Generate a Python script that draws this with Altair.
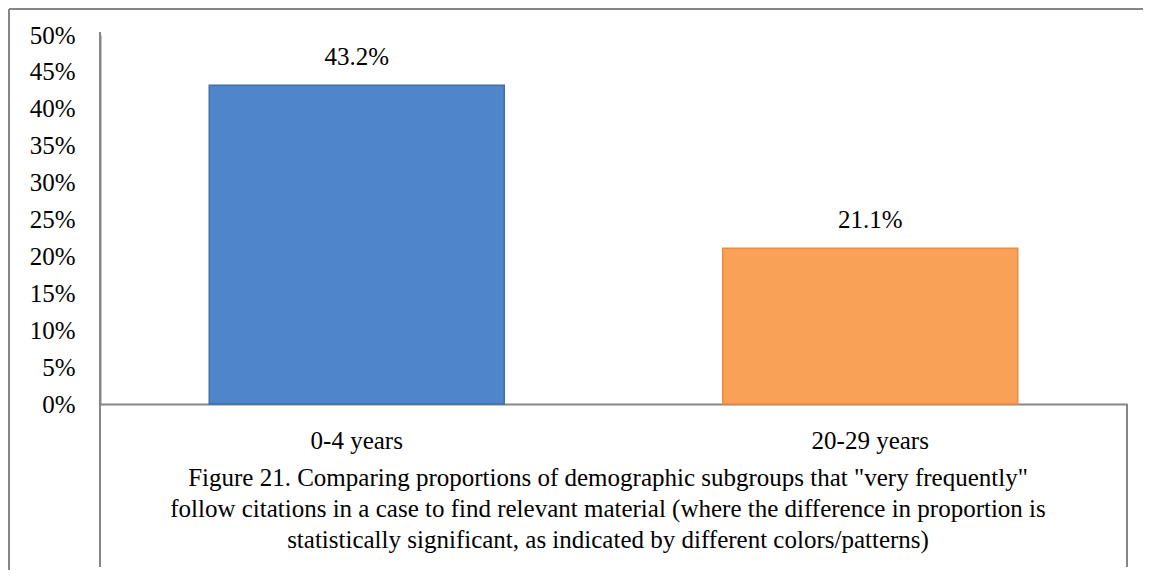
import altair as alt
import pandas as pd

categories = ["0-4 years", "20-29 years"]
values = [0.432, 0.211]
labels = ["43.2%", "21.1%"]
colors = ["#4F86CB", "#F8A157"]
edge_colors = ["#3F6EAA", "#E98B40"]
caption = [
    'Figure 21. Comparing proportions of demographic subgroups that "very frequently"',
    'follow citations in a case to find relevant material (where the difference in proportion is',
    'statistically significant, as indicated by different colors/patterns)',
]
y_ticks = [0, 0.05, 0.1, 0.15, 0.2, 0.25, 0.3, 0.35, 0.4, 0.45, 0.5]

df = pd.DataFrame({"cat": categories, "val": values, "lab": labels, "col": colors, "edge": edge_colors})

W, H = 1027, 369
FONT = "Liberation Serif"
GRAY = "#868686"

x_axis = alt.Axis(
    title=caption,
    titleFont=FONT,
    titleFontSize=25,
    titleFontWeight="normal",
    titleColor="#000000",
    titleLineHeight=31,
    titlePadding=12,
    titleX=W / 2 - 6,
    labelFont=FONT,
    labelFontSize=25,
    labelColor="#000000",
    labelPadding=24,
    labelAngle=0,
    ticks=False,
    domainColor=GRAY,
    domainWidth=2,
)
y_axis = alt.Axis(
    title=None,
    values=y_ticks,
    format=".0%",
    labelFont=FONT,
    labelFontSize=25,
    labelColor="#000000",
    labelPadding=25,
    labelOverlap=False,
    ticks=False,
    grid=False,
    domainColor=GRAY,
    domainWidth=2,
)
x_enc = alt.X("cat:N", sort=categories,
              scale=alt.Scale(paddingInner=0.4255, paddingOuter=0.2128), axis=x_axis)
y_enc = alt.Y("val:Q", scale=alt.Scale(domain=[0, 0.5], nice=False), axis=y_axis)

base = alt.Chart(df)

bars = base.mark_bar(strokeWidth=1.5).encode(
    x=x_enc,
    y=y_enc,
    fill=alt.Fill("col:N", scale=None),
    stroke=alt.Stroke("edge:N", scale=None),
)

text = base.mark_text(font=FONT, fontSize=25, color="#000000", baseline="middle", dy=-28).encode(
    x=x_enc,
    y=y_enc,
    text="lab:N",
)

line_df = pd.DataFrame({"k": [0]})
lb = alt.Chart(line_df)
left_ext = lb.mark_rule(color=GRAY, strokeWidth=2).encode(
    x=alt.value(0), y=alt.value(-3), y2=alt.value(532)
)
right_ext = lb.mark_rule(color=GRAY, strokeWidth=2).encode(
    x=alt.value(W), y=alt.value(H), y2=alt.value(532)
)
frame_top = lb.mark_rule(color=GRAY, strokeWidth=2).encode(
    x=alt.value(-91), x2=alt.value(W + 20), y=alt.value(-26)
)
frame_left = lb.mark_rule(color=GRAY, strokeWidth=2).encode(
    x=alt.value(-91), y=alt.value(-26), y2=alt.value(H + 200)
)

chart = alt.layer(bars, text, left_ext, right_ext, frame_top, frame_left).properties(
    width=W,
    height=H,
    background="white",
    autosize=alt.AutoSizeParams(type="none"),
    padding={"left": 92, "top": 27, "right": 16, "bottom": 166},
).configure_view(stroke=None)

chart.save("out.html", embed_options={"renderer": "svg", "actions": False})
